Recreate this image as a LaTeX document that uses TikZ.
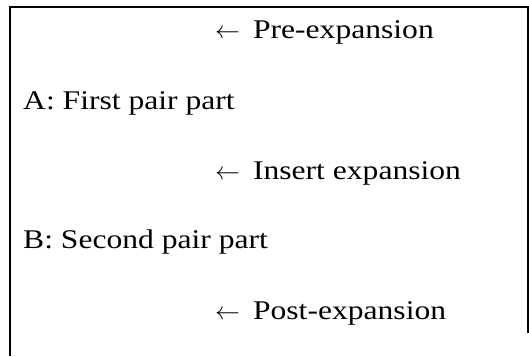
\documentclass[tikz,border=0pt]{standalone}
\usepackage{fontspec}
\setmainfont[FakeStretch=1.17]{Liberation Serif}
\newcommand{\larr}{\ensuremath{\leftarrow}\hspace{13pt}}
\begin{document}
\begin{tikzpicture}[x=1pt,y=1pt,
  lbl/.style={anchor=base west, inner sep=0pt, font=\fontsize{27}{32}\selectfont},
  frame/.style={line width=2pt}]
\useasboundingbox (0,0) rectangle (529,356);
% open frame: top rule, left rule, partial right rule
\coordinate (tl) at (10,349);
\coordinate (tr) at (528,349);
\coordinate (bl) at (10,0);
\coordinate (br) at (528,23);
\draw[frame] (bl) -- (tl) -- (tr) -- (br);
% sequence labels
\node[lbl] (pre)  at (215,317) {\larr Pre-expansion};
\node[lbl] (fpp)  at (23,246)  {A: First pair part};
\node[lbl] (ins)  at (215,176) {\larr Insert expansion};
\node[lbl] (spp)  at (23,107)  {B: Second pair part};
\node[lbl] (post) at (215,37)  {\larr Post-expansion};
\end{tikzpicture}
\end{document}
